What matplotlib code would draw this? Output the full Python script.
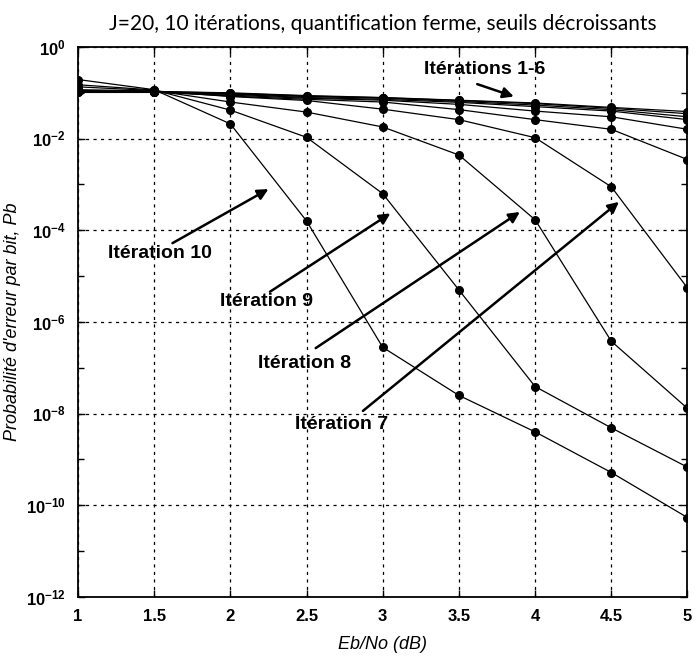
import math
import matplotlib
matplotlib.use("Agg")
import matplotlib.pyplot as plt
from matplotlib.ticker import FixedLocator, FuncFormatter, NullFormatter

plt.rcParams['mathtext.fontset'] = 'custom'
plt.rcParams['mathtext.rm'] = 'Liberation Sans'
plt.rcParams['mathtext.bf'] = 'Liberation Sans:bold'

# Eb/No (dB) sweep
ebno = [1, 1.5, 2, 2.5, 3, 3.5, 4, 4.5, 5]

# bit error probability per decoding iteration
pb_it1 = [0.112, 0.107, 0.100, 0.087, 0.079, 0.069, 0.060, 0.048, 0.039]
pb_it2 = [0.110, 0.107, 0.098, 0.085, 0.078, 0.068, 0.058, 0.046, 0.035]
pb_it3 = [0.107, 0.105, 0.095, 0.083, 0.076, 0.065, 0.054, 0.043, 0.030]
pb_it4 = [0.105, 0.105, 0.093, 0.079, 0.072, 0.062, 0.050, 0.040, 0.026]
pb_it5 = [0.102, 0.102, 0.089, 0.076, 0.069, 0.056, 0.040, 0.030, 0.016]
pb_it6 = [0.107, 0.105, 0.085, 0.072, 0.063, 0.043, 0.026, 0.016, 0.0035]
pb_it7 = [0.117, 0.110, 0.083, 0.068, 0.044, 0.026, 0.0105, 8.9e-4, 5.5e-6]
pb_it8 = [0.135, 0.112, 0.063, 0.038, 0.018, 0.0044, 1.7e-4, 3.8e-7, 1.3e-8]
pb_it9 = [0.150, 0.115, 0.042, 0.0107, 6.3e-4, 5.0e-6, 3.9e-8, 4.9e-9, 6.8e-10]
pb_it10 = [0.195, 0.117, 0.021, 1.6e-4, 2.8e-7, 2.5e-8, 4.0e-9, 5.2e-10, 5.4e-11]

curves = [pb_it1, pb_it2, pb_it3, pb_it4, pb_it5,
          pb_it6, pb_it7, pb_it8, pb_it9, pb_it10]

fig = plt.figure(figsize=(6.95, 6.59), dpi=100)
ax = fig.add_axes([0.1122, 0.0941, 0.8770, 0.8346])

for pb in curves:
    ax.semilogy(ebno, pb, '-o', color='black', lw=0.9, ms=5.5,
                markerfacecolor='black', markeredgecolor='black')

ax.set_xlim(1, 5)
ax.set_ylim(1e-12, 1)

ax.xaxis.set_major_locator(FixedLocator(ebno))
ax.xaxis.set_major_formatter(FuncFormatter(lambda v, p: f"{v:g}"))
ax.yaxis.set_major_locator(FixedLocator([10.0 ** e for e in range(-12, 1, 2)]))
ax.yaxis.set_minor_locator(FixedLocator([10.0 ** e for e in range(-11, 0, 2)]))
ax.yaxis.set_minor_formatter(NullFormatter())
ax.yaxis.set_major_formatter(FuncFormatter(
    lambda v, p: r'$\mathbf{10^{%d}}$' % round(math.log10(v))))

ax.tick_params(which='both', direction='in', top=True, right=True,
               width=1.0, colors='black')
ax.tick_params(which='major', length=5)
ax.tick_params(which='minor', length=4)
ax.tick_params(axis='x', pad=9, labelsize=12)
ax.tick_params(axis='y', pad=9, labelsize=12)
for lbl in ax.get_xticklabels():
    lbl.set_fontfamily('Liberation Sans')
    lbl.set_fontweight('bold')

ax.grid(True, which='major', color='black', lw=0.9, linestyle=(0, (2.5, 3.5)))
for s in ax.spines.values():
    s.set_linewidth(1.3)

ax.set_title("J=20, 10 itérations, quantification ferme, seuils décroissants",
             fontsize=15, family='Lato', pad=12)
ax.set_xlabel("Eb/No (dB)", fontsize=13, style='italic',
              family='Liberation Sans', labelpad=8)
ax.set_ylabel("Probabilité d'erreur par bit, Pb", fontsize=13, style='italic',
              family='Liberation Sans', labelpad=3)

# arrows pointing at the curves
arrow = dict(arrowstyle='-|>', color='black', lw=1.8, mutation_scale=16,
             shrinkA=0, shrinkB=0)
lab = dict(fontsize=14, fontweight='bold', family='Liberation Sans',
           ha='center', va='center')

ax.annotate('', xy=(3.86, 10 ** -1.08), xytext=(3.62, 10 ** -0.81), arrowprops=arrow)
ax.text(3.67, 10 ** -0.50, 'Itérations 1-6', **lab)

ax.annotate('', xy=(2.25, 10 ** -3.10), xytext=(1.62, 10 ** -4.28), arrowprops=arrow)
ax.text(1.54, 10 ** -4.50, 'Itération 10', **lab)

ax.annotate('', xy=(3.05, 10 ** -3.63), xytext=(2.26, 10 ** -5.34), arrowprops=arrow)
ax.text(2.24, 10 ** -5.56, 'Itération 9', **lab)

ax.annotate('', xy=(3.90, 10 ** -3.60), xytext=(2.56, 10 ** -6.57), arrowprops=arrow)
ax.text(2.49, 10 ** -6.90, 'Itération 8', **lab)

ax.annotate('', xy=(4.55, 10 ** -3.38), xytext=(2.87, 10 ** -7.94), arrowprops=arrow)
ax.text(2.73, 10 ** -8.23, 'Itération 7', **lab)

fig.savefig("out.png", dpi=100)
